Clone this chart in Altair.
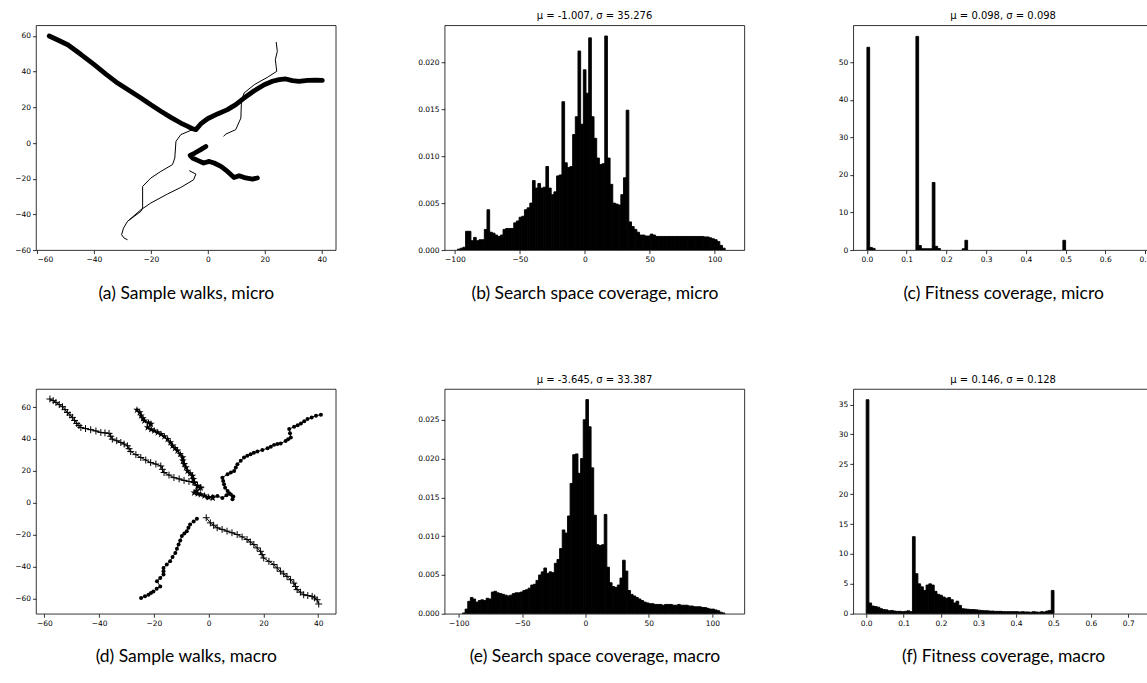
import altair as alt
import pandas as pd

# ---------------------------------------------------------------------------
# Sample walks (x, y) -- micro mutation operator
# ---------------------------------------------------------------------------
MICRO_THICK_1 = [(-55.7, 60.0), (-52.5, 57.6), (-49.2, 55.1), (-44.5, 49.6), (-39.9, 43.9),
                 (-35.8, 38.6), (-31.7, 33.6), (-27.6, 29.4), (-23.5, 25.2), (-20.0, 21.4),
                 (-16.5, 17.8), (-13.0, 14.4), (-9.5, 11.2), (-7.4, 9.6), (-5.4, 8.0),
                 (-4.2, 7.5), (-2.5, 10.7), (-0.1, 13.6), (3.4, 16.3), (6.9, 18.7),
                 (9.8, 21.5), (12.7, 25.2), (16.3, 29.3), (19.8, 32.7), (22.7, 34.6),
                 (25.0, 35.5), (27.4, 35.9), (29.7, 35.0), (32.0, 34.6), (35.0, 35.1),
                 (37.9, 35.3), (40.2, 35.1)]
MICRO_THICK_2 = [(-0.7, -1.9), (-2.5, -3.7), (-4.6, -5.6), (-6.2, -6.9), (-5.4, -8.4),
                 (-3.6, -9.7), (-1.5, -11.2), (0.5, -10.3), (2.2, -11.2), (4.6, -13.1),
                 (6.9, -15.9), (9.2, -19.3), (11.0, -18.3), (13.3, -19.6), (15.7, -20.2),
                 (17.4, -19.6)]
MICRO_THIN_1 = [(24.0, 56.6), (24.4, 51.4), (23.7, 46.7), (24.2, 40.2), (20.9, 36.8),
                (16.3, 32.7), (12.7, 28.0), (11.8, 23.4), (11.6, 14.0), (9.8, 7.5),
                (6.3, 5.0), (5.5, 3.7)]
MICRO_THIN_2 = [(-5.4, 7.5), (-9.5, 4.7), (-11.2, 0.9), (-11.6, -8.4), (-12.4, -12.1),
                (-16.5, -15.9), (-20.0, -19.6), (-22.9, -24.3), (-22.9, -36.4), (-23.5, -38.3),
                (-28.2, -43.9), (-29.6, -47.7), (-30.3, -51.4), (-29.4, -53.3), (-28.2, -54.2)]
MICRO_THIN_3 = [(-6.5, -15.5), (-4.2, -17.4), (-5.0, -20.6), (-9.5, -24.9), (-14.2, -28.6),
                (-20.0, -33.6), (-23.5, -37.4), (-28.2, -43.9)]

# ---------------------------------------------------------------------------
# Sample walks (x, y) -- macro mutation operator
# ---------------------------------------------------------------------------
MACRO_PLUS_1 = [(-58.0, 65.0), (-56.8, 64.0), (-55.8, 62.9), (-54.6, 61.5), (-53.4, 60.2),
                (-52.5, 58.4), (-51.6, 56.6), (-50.7, 55.0), (-49.8, 53.5), (-49.0, 51.6),
                (-48.2, 49.7), (-47.4, 48.4), (-46.7, 47.2), (-45.0, 46.5), (-43.1, 45.8),
                (-41.2, 45.0), (-39.4, 44.1), (-37.9, 43.8), (-36.4, 43.5), (-35.8, 41.7),
                (-35.2, 39.9), (-33.6, 38.9), (-32.1, 37.8), (-30.9, 36.8), (-29.7, 35.7),
                (-29.1, 33.9), (-28.5, 32.1), (-26.6, 30.2), (-24.8, 28.4), (-23.0, 26.8),
                (-21.2, 25.2), (-19.3, 24.3), (-17.5, 23.1), (-16.9, 21.0), (-16.3, 19.0),
                (-14.5, 17.4), (-12.7, 15.8), (-10.8, 15.0), (-9.0, 14.1), (-7.2, 13.4),
                (-5.4, 12.7), (-4.1, 11.0), (-2.9, 9.5)]
MACRO_STAR = [(-26.2, 58.1), (-25.2, 56.6), (-24.7, 54.6), (-24.0, 52.8), (-23.5, 51.4),
              (-22.0, 50.2), (-21.1, 49.3), (-22.3, 47.2), (-21.0, 46.0), (-19.9, 45.1),
              (-18.6, 44.0), (-17.4, 43.0), (-16.2, 41.5), (-15.0, 39.9), (-14.0, 37.8),
              (-13.2, 35.7), (-12.3, 34.2), (-11.4, 32.6), (-10.4, 30.5), (-9.5, 28.4),
              (-9.4, 26.3), (-8.9, 24.2), (-8.3, 22.1), (-7.7, 20.0), (-6.8, 18.4),
              (-5.9, 16.9), (-5.6, 14.8), (-5.3, 12.7), (-4.1, 10.6), (-2.9, 9.5),
              (-4.5, 7.5), (-5.3, 6.4), (-4.0, 5.8), (-2.9, 5.3), (-1.5, 4.5),
              (0.0, 3.5), (1.5, 3.0)]
MACRO_DOT_1 = [(-0.5, 3.2), (1.5, 4.0), (3.2, 4.3), (5.0, 3.0), (6.5, 4.8), (8.1, 5.3),
               (8.7, 2.2), (9.0, 4.0), (7.5, 6.0), (6.9, 7.4), (6.0, 9.5), (5.6, 11.6),
               (5.3, 13.7), (5.0, 15.8), (6.9, 17.9), (8.1, 19.0), (9.3, 20.0), (9.9, 22.1),
               (10.5, 24.2), (11.7, 26.3), (12.9, 28.4), (14.1, 29.5), (15.3, 30.5),
               (16.5, 31.3), (17.8, 32.1), (19.6, 33.1), (21.5, 34.2), (22.7, 35.2),
               (23.9, 36.3), (25.1, 36.8), (26.3, 37.2), (28.1, 38.8), (29.0, 39.8),
               (30.0, 40.9), (29.7, 43.5), (29.4, 46.2), (31.2, 47.6), (32.5, 48.6),
               (33.7, 49.7), (34.9, 51.1), (36.1, 52.5), (37.6, 53.5), (39.2, 54.6),
               (41.0, 55.2)]
MACRO_DOT_2 = [(-24.7, -59.6), (-23.3, -58.5), (-22.0, -57.5), (-21.1, -56.4), (-20.2, -55.4),
               (-19.0, -53.8), (-17.7, -52.3), (-18.9, -49.1), (-17.7, -47.0), (-16.5, -44.9),
               (-16.5, -42.8), (-16.5, -40.7), (-15.3, -38.6), (-14.1, -36.5), (-13.2, -33.9),
               (-12.2, -31.3), (-11.6, -28.7), (-11.0, -26.1), (-10.4, -23.5), (-9.8, -20.8),
               (-8.9, -19.2), (-8.0, -17.7), (-7.4, -15.6), (-6.8, -13.5), (-5.5, -11.7),
               (-4.3, -9.9)]
MACRO_PLUS_2 = [(-0.9, -9.3), (0.6, -12.5), (1.8, -14.0), (3.1, -15.6), (4.9, -16.6),
                (6.7, -17.7), (8.5, -18.7), (10.4, -19.8), (12.2, -21.3), (14.0, -22.9),
                (15.2, -24.5), (16.5, -26.1), (17.7, -28.2), (18.9, -30.3), (19.5, -32.4),
                (20.1, -34.5), (22.0, -36.6), (23.8, -38.6), (25.0, -40.7), (26.2, -42.8),
                (27.4, -44.4), (28.6, -46.0), (29.9, -48.1), (31.1, -50.2), (31.7, -52.3),
                (32.3, -54.3), (33.5, -55.9), (34.7, -57.5), (36.2, -58.0), (37.8, -58.5),
                (38.7, -59.5), (39.6, -60.6), (40.2, -63.3)]

# ---------------------------------------------------------------------------
# Search space coverage histograms (density per bin)
# ---------------------------------------------------------------------------
MICRO_SPACE_LO, MICRO_SPACE_BIN = -97.95, 2.06
MICRO_SPACE = [
    0.0001, 0.0002, 0.0003, 0.0020, 0.0020, 0.0010, 0.00135, 0.0010, 0.0011, 0.0011,
    0.0022, 0.0043, 0.0019, 0.0018, 0.0016, 0.00145, 0.0016, 0.0022, 0.0023, 0.0023,
    0.0023, 0.0029, 0.0031, 0.0035, 0.0036, 0.0043, 0.0045, 0.0050, 0.0074, 0.0066,
    0.0071, 0.0066, 0.0067, 0.0089, 0.0066, 0.0059, 0.0062, 0.0079, 0.0080, 0.0158,
    0.0093, 0.0088, 0.0089, 0.0123, 0.0142, 0.0212, 0.0134, 0.0192, 0.0167, 0.0226,
    0.0142, 0.0119, 0.0098, 0.0091, 0.0092, 0.0228, 0.0098, 0.0070, 0.0050, 0.0049,
    0.0048, 0.0059, 0.0077, 0.0149, 0.0030, 0.0025, 0.0022, 0.0019, 0.0016, 0.0016,
    0.0015, 0.0015, 0.0017, 0.0016, 0.00145, 0.00145, 0.00145, 0.00145, 0.00145, 0.00145,
    0.00145, 0.00145, 0.00145, 0.00145, 0.00145, 0.00145, 0.00145, 0.00145, 0.00145, 0.00145,
    0.00145, 0.00145, 0.0014, 0.0014, 0.0013, 0.0012, 0.0011, 0.0009, 0.0005, 0.0002,
]
MACRO_SPACE_LO, MACRO_SPACE_BIN = -97.0, 2.07
MACRO_SPACE = [
    0.0001, 0.0006, 0.0016, 0.0021, 0.0019, 0.0015, 0.0017, 0.0018, 0.0017, 0.0020,
    0.0019, 0.0028, 0.0029, 0.0027, 0.0026, 0.0025, 0.0024, 0.0023, 0.0024, 0.0026,
    0.0027, 0.0027, 0.0028, 0.0030, 0.0031, 0.0033, 0.0037, 0.0038, 0.0043, 0.0050,
    0.0054, 0.0059, 0.0052, 0.0054, 0.0053, 0.0065, 0.0070, 0.0084, 0.0108, 0.0104,
    0.0126, 0.0168, 0.0205, 0.0206, 0.0181, 0.0200, 0.0250, 0.0276, 0.0241, 0.0188,
    0.0127, 0.0089, 0.0088, 0.0089, 0.0128, 0.0060, 0.0040, 0.0035, 0.0034, 0.0037,
    0.0046, 0.0069, 0.0055, 0.0030, 0.0025, 0.0023, 0.0021, 0.0019, 0.0017, 0.0015,
    0.0014, 0.0013, 0.0013, 0.0012, 0.0012, 0.0012, 0.0011, 0.0012, 0.0012, 0.0012,
    0.0011, 0.0011, 0.0012, 0.0011, 0.0011, 0.0011, 0.0010, 0.0010, 0.0009, 0.0009,
    0.0009, 0.0008, 0.0008, 0.0007, 0.0006, 0.0006, 0.0005, 0.0004, 0.0002, 0.0001,
]

# ---------------------------------------------------------------------------
# Fitness coverage histograms (density per bin, bins start at 0)
# ---------------------------------------------------------------------------
MICRO_FIT_BIN = 0.00685
MICRO_FIT = [
    54.0, 0.7, 0.45, 0, 0, 0, 0, 0, 0, 0,
    0, 0, 0, 0, 0, 0, 0, 0, 56.9, 1.2,
    0.35, 0.35, 0.35, 0.35, 18.0, 1.0, 0.4, 0, 0, 0,
    0, 0, 0, 0, 0, 0.35, 2.6, 0, 0, 0,
    0, 0, 0, 0, 0, 0, 0, 0, 0, 0,
    0, 0, 0, 0, 0, 0, 0, 0, 0, 0,
    0, 0, 0, 0, 0, 0, 0, 0, 0, 0,
    0, 0, 2.6,
]
MACRO_FIT_BIN = 0.00727
MACRO_FIT = [
    35.8, 1.8, 1.3, 1.2, 1.1, 0.85, 0.7, 0.65, 0.5, 0.55,
    0.45, 0.4, 0.4, 0.35, 0.4, 0.5, 0.35, 12.9, 6.7, 5.0,
    4.5, 3.9, 4.8, 5.0, 4.8, 3.75, 3.25, 3.1, 2.8, 2.6,
    2.7, 2.35, 1.8, 2.1, 1.4, 0.85, 0.8, 0.75, 0.7, 0.7,
    0.65, 0.6, 0.55, 0.5, 0.5, 0.45, 0.45, 0.4, 0.4, 0.4,
    0.35, 0.35, 0.35, 0.35, 0.35, 0.35, 0.3, 0.35, 0.3, 0.3,
    0.25, 0.35, 0.3, 0.25, 0.35, 0.3, 0.45, 0.55, 3.9,
]

TITLES = {
    "b": "μ = -1.007, σ = 35.276",
    "c": "μ = 0.098, σ = 0.098",
    "e": "μ = -3.645, σ = 33.387",
    "f": "μ = 0.146, σ = 0.128",
}
CAPTIONS = {
    "a": "(a) Sample walks, micro",
    "b": "(b) Search space coverage, micro",
    "c": "(c) Fitness coverage, micro",
    "d": "(d) Sample walks, macro",
    "e": "(e) Search space coverage, macro",
    "f": "(f) Fitness coverage, macro",
}

TICK_FONT = "DejaVu Sans"
CAPTION_FONT = "Lato"
W, H = 300, 225

PLUS_PATH = "M-1,0L1,0M0,-1L0,1"
STAR_PATH = ("M0,-1L0.2245,-0.309L0.951,-0.309L0.363,0.118L0.588,0.809L0,0.382"
             "L-0.588,0.809L-0.363,0.118L-0.951,-0.309L-0.2245,-0.309Z")


def axis_common(values, fmt=None):
    kw = dict(values=values, labelFont=TICK_FONT, labelFontSize=7.5, labelColor="black",
              tickColor="black", tickSize=3.5, tickWidth=0.8, labelPadding=2,
              domain=False, grid=False)
    if fmt:
        kw["format"] = fmt
    return kw


def x_axis(values, caption, fmt=None):
    return alt.Axis(title=caption, titleFont=CAPTION_FONT, titleFontSize=17.5,
                    titleFontWeight="normal", titleColor="black", titlePadding=21,
                    **axis_common(values, fmt))


def y_axis(values, fmt=None):
    return alt.Axis(title=None, **axis_common(values, fmt))


def walk_frame(points, name):
    return pd.DataFrame({"x": [p[0] for p in points], "y": [p[1] for p in points],
                         "i": list(range(len(points))), "walk": name})


def enc(xdom, ydom, xticks, yticks, caption):
    return dict(
        x=alt.X("x:Q", scale=alt.Scale(domain=xdom, nice=False, zero=False),
                axis=x_axis(xticks, caption)),
        y=alt.Y("y:Q", scale=alt.Scale(domain=ydom, nice=False, zero=False),
                axis=y_axis(yticks)),
    )


def micro_walks():
    xdom, ydom = [-60.35, 44.9], [-60, 66]
    e = enc(xdom, ydom, [-60, -40, -20, 0, 20, 40], [-60, -40, -20, 0, 20, 40, 60], CAPTIONS["a"])
    thick = pd.concat([walk_frame(MICRO_THICK_1, "t1"), walk_frame(MICRO_THICK_2, "t2")])
    thin = pd.concat([walk_frame(MICRO_THIN_1, "n1"), walk_frame(MICRO_THIN_2, "n2"),
                      walk_frame(MICRO_THIN_3, "n3")])
    l_thin = alt.Chart(thin).mark_line(color="black", strokeWidth=1.0, clip=True).encode(
        detail="walk:N", order="i:Q", **e)
    l_thick = alt.Chart(thick).mark_line(color="black", strokeWidth=4.8, strokeCap="round",
                                         strokeJoin="round", clip=True).encode(
        detail="walk:N", order="i:Q", **e)
    return alt.layer(l_thin, l_thick).properties(width=W, height=H)


def macro_walks():
    xdom, ydom = [-63.1, 46.4], [-69.4, 71.3]
    e = enc(xdom, ydom, [-60, -40, -20, 0, 20, 40], [-60, -40, -20, 0, 20, 40, 60], CAPTIONS["d"])
    plus = pd.concat([walk_frame(MACRO_PLUS_1, "p1"), walk_frame(MACRO_PLUS_2, "p2")])
    star = walk_frame(MACRO_STAR, "s1")
    dots = pd.concat([walk_frame(MACRO_DOT_1, "d1"), walk_frame(MACRO_DOT_2, "d2")])
    allw = pd.concat([plus, star, dots])
    lines = alt.Chart(allw).mark_line(color="black", strokeWidth=1.0, clip=True).encode(
        detail="walk:N", order="i:Q", **e)
    p_plus = alt.Chart(plus).mark_point(shape=PLUS_PATH, filled=False, stroke="black",
                                        strokeWidth=1.0, size=48, opacity=1, clip=True).encode(**e)
    p_star = alt.Chart(star).mark_point(shape=STAR_PATH, filled=True, color="black",
                                        size=64, opacity=1, clip=True).encode(**e)
    p_dot = alt.Chart(dots).mark_point(shape="circle", filled=True, color="black",
                                       size=16, opacity=1, clip=True).encode(**e)
    return alt.layer(lines, p_plus, p_star, p_dot).properties(width=W, height=H)


def histogram(lo, width, dens, xdom, ydom, xticks, yticks, xfmt, yfmt, title, caption):
    rows = [{"x0": lo + i * width, "x1": lo + (i + 1) * width, "d": v, "z": 0.0}
            for i, v in enumerate(dens) if v > 0]
    df = pd.DataFrame(rows)
    return alt.Chart(df).mark_rect(color="black", stroke="black", strokeWidth=0.9,
                                   clip=True).encode(
        x=alt.X("x0:Q", scale=alt.Scale(domain=xdom, nice=False, zero=False),
                axis=x_axis(xticks, caption, xfmt)),
        x2="x1:Q",
        y=alt.Y("d:Q", scale=alt.Scale(domain=ydom, nice=False, zero=False),
                axis=y_axis(yticks, yfmt)),
        y2="z:Q",
    ).properties(
        width=W, height=H,
        title=alt.TitleParams(title, font=TICK_FONT, fontSize=10, fontWeight="normal",
                              color="black", offset=4, anchor="middle"),
    )


panel_a = micro_walks()
panel_b = histogram(MICRO_SPACE_LO, MICRO_SPACE_BIN, MICRO_SPACE, [-107.9, 122.8], [0, 0.02394],
                    [-100, -50, 0, 50, 100], [0, 0.005, 0.01, 0.015, 0.02], None, ".3f",
                    TITLES["b"], CAPTIONS["b"])
panel_c = histogram(0.0, MICRO_FIT_BIN, MICRO_FIT, [-0.0344, 0.72], [0, 59.86],
                    [0, 0.1, 0.2, 0.3, 0.4, 0.5, 0.6, 0.7], [0, 10, 20, 30, 40, 50], ".1f", None,
                    TITLES["c"], CAPTIONS["c"])
panel_d = macro_walks()
panel_e = histogram(MACRO_SPACE_LO, MACRO_SPACE_BIN, MACRO_SPACE, [-111.1, 125.3], [0, 0.02897],
                    [-100, -50, 0, 50, 100], [0, 0.005, 0.01, 0.015, 0.02, 0.025], None, ".3f",
                    TITLES["e"], CAPTIONS["e"])
panel_f = histogram(0.0, MACRO_FIT_BIN, MACRO_FIT, [-0.0345, 0.766], [0, 37.6],
                    [0, 0.1, 0.2, 0.3, 0.4, 0.5, 0.6, 0.7], [0, 5, 10, 15, 20, 25, 30, 35], ".1f", None,
                    TITLES["f"], CAPTIONS["f"])

row1 = alt.hconcat(panel_a, panel_b, panel_c, spacing=109, bounds="flush")
row2 = alt.hconcat(panel_d, panel_e, panel_f, spacing=109, bounds="flush")

# Rows are laid out flush, so the spacing runs from the top of one row to the next.
# The right-hand column runs past the page edge; a negative right padding crops it there.
chart = alt.vconcat(row1, row2, spacing=364, bounds="flush").properties(
    padding={"left": 14, "top": 10, "right": -7, "bottom": 4},
    background="white",
).configure_view(stroke="black", strokeWidth=0.8)

chart.save("out.html", embed_options={"renderer": "svg", "actions": False})
